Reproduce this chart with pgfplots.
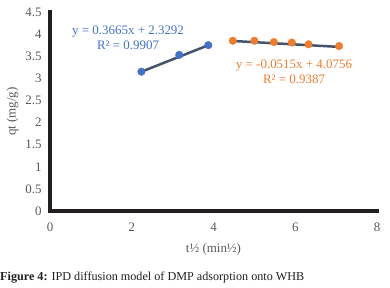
\documentclass[border=0pt]{standalone}
\usepackage{fontspec}
\setmainfont{Liberation Serif}
\usepackage{pgfplots}
\pgfplotsset{compat=1.18}
\definecolor{bluept}{HTML}{4472C4}
\definecolor{orangept}{HTML}{ED7D31}
\definecolor{trend}{HTML}{44546A}
\definecolor{ticktxt}{HTML}{595959}
\definecolor{captxt}{HTML}{231F20}
\begin{document}
\begin{tikzpicture}[x=1bp,y=1bp]
\begin{axis}[
  at={(0,0)}, anchor=south west,
  scale only axis, width=327bp, height=199bp,
  xmin=0, xmax=8, ymin=0, ymax=4.5,
  axis lines*=left,
  axis line style={line width=4bp, captxt, line cap=rect},
  xtick={0,2,4,6,8},
  ytick={0,0.5,1,1.5,2,2.5,3,3.5,4,4.5},
  major tick length=0pt,
  /pgf/number format/assume math mode=true,
  tick label style={color=ticktxt, font=\fontsize{13}{15}\selectfont},
  xticklabel style={yshift=-8bp},
  yticklabel style={xshift=-5bp},
  label style={color=ticktxt, font=\fontsize{13}{15}\selectfont},
  xlabel={t½ (min½)},
  xlabel style={yshift=-5bp},
  ylabel={qt (mg/g)},
  clip=false,
]
\addplot[only marks, mark=*, mark size=3.8bp, color=bluept] coordinates {
  (2.236,3.15) (3.162,3.53) (3.873,3.75)
};
\addplot[only marks, mark=*, mark size=3.8bp, color=orangept] coordinates {
  (4.472,3.85) (5.000,3.85) (5.477,3.82) (5.916,3.81) (6.325,3.77) (7.071,3.73)
};
\addplot[line width=2.5bp, color=trend] coordinates {(2.236,3.149) (3.873,3.749)};
\addplot[line width=2.5bp, color=trend] coordinates {(4.472,3.845) (7.071,3.711)};
\node[align=center, color=bluept, font=\fontsize{13}{15}\selectfont] at (axis cs:1.91,3.925) {y = 0.3665x + 2.3292\\R² = 0.9907};
\node[align=center, color=orangept, font=\fontsize{13}{15}\selectfont] at (axis cs:5.97,3.15) {y = -0.0515x + 4.0756\\R² = 0.9387};
\end{axis}
\node[anchor=west, inner sep=0pt, color=captxt, font=\fontsize{12.2}{14}\selectfont] at (-50,-67) {\textbf{Figure 4:} IPD diffusion model of DMP adsorption onto WHB};
\pgfresetboundingbox
\useasboundingbox (-50,-77) rectangle (340,211);
\end{tikzpicture}
\end{document}
